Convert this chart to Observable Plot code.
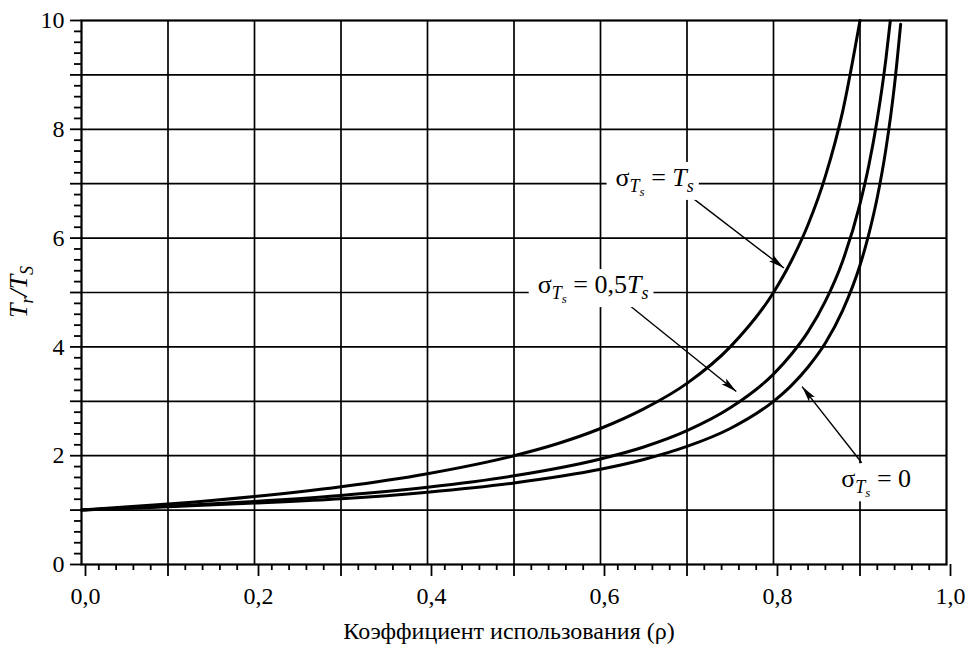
<!DOCTYPE html>
<html><head><meta charset="utf-8">
<script src="https://cdn.jsdelivr.net/npm/d3@7"></script>
<script src="https://cdn.jsdelivr.net/npm/@observablehq/plot@0.6"></script>
<style>
body{margin:0;background:#fff}
svg, svg text, svg tspan{font-family:"Liberation Serif","Times New Roman",serif !important}
</style>
</head><body><div id="chart"></div>
<script>
// ---- data ----
const rhoTs  = [0, 0.1, 0.2, 0.3, 0.4, 0.5, 0.55, 0.6, 0.65, 0.7, 0.75, 0.8, 0.82, 0.84, 0.86, 0.88, 0.9];
const valTs  = [1, 1.11, 1.25, 1.43, 1.67, 2.0, 2.22, 2.5, 2.86, 3.33, 4.0, 5.0, 5.56, 6.25, 7.14, 8.33, 10.0];
const rhoHalf = [0, 0.1, 0.2, 0.3, 0.4, 0.5, 0.6, 0.65, 0.7, 0.75, 0.8, 0.82, 0.84, 0.86, 0.88, 0.9, 0.91, 0.92, 0.93, 0.935];
const valHalf = [1, 1.07, 1.16, 1.27, 1.42, 1.63, 1.94, 2.16, 2.46, 2.88, 3.5, 3.85, 4.28, 4.84, 5.58, 6.63, 7.32, 8.19, 9.30, 9.99];
const rhoZero = [0, 0.1, 0.2, 0.3, 0.4, 0.5, 0.6, 0.65, 0.7, 0.75, 0.8, 0.82, 0.84, 0.86, 0.88, 0.9, 0.91, 0.92, 0.93, 0.94, 0.947];
const valZero = [1, 1.06, 1.13, 1.21, 1.33, 1.5, 1.75, 1.93, 2.17, 2.5, 3.0, 3.28, 3.63, 4.07, 4.67, 5.5, 6.06, 6.75, 7.64, 8.83, 9.93];

const xLabelTicks = [0, 0.2, 0.4, 0.6, 0.8, 1.0];
const xTickLabels = ["0,0", "0,2", "0,4", "0,6", "0,8", "1,0"];
const xOddTicks = [0.1, 0.3, 0.5, 0.7, 0.9];
const yLabelTicks = [0, 2, 4, 6, 8, 10];
const yTickLabels = ["0", "2", "4", "6", "8", "10"];
const yOddTicks = [1, 3, 5, 7, 9];
const gridX = [0.1, 0.2, 0.3, 0.4, 0.5, 0.6, 0.7, 0.8, 0.9];
const gridY = [1, 2, 3, 4, 5, 6, 7, 8, 9];
const xMinor = d3.range(0, 50).map(i => i * 0.02).filter((v, i) => i % 5 !== 0);
const yMinor = d3.range(0, 50).map(i => i * 0.2).filter((v, i) => i % 5 !== 0);

const xTitle = "Коэффициент использования (ρ)";

// arrows (data coordinates)
const arrowX1 = [0.707, 0.619, 0.902];
const arrowY1 = [6.73, 4.95, 1.87];
const arrowX2 = [0.812, 0.757, 0.833];
const arrowY2 = [5.45, 3.18, 3.27];

// annotation labels (data coordinates of text start / baseline)
const annX = [0.618, 0.528, 0.879];
const annY = [6.95, 4.98, 1.41];
const annTail = [[{t:" = "}, {t:"T", it:true}, {t:"s", it:true, sub:1}],
                 [{t:" = 0,5"}, {t:"T", it:true}, {t:"s", it:true, sub:1}],
                 [{t:" = 0"}]];

const rows = [
  ...rhoTs.map((r, i) => ({rho: r, t: valTs[i], s: "Ts"})),
  ...rhoHalf.map((r, i) => ({rho: r, t: valHalf[i], s: "0.5Ts"})),
  ...rhoZero.map((r, i) => ({rho: r, t: valZero[i], s: "0"}))
];
const arrows = arrowX1.map((x, i) => ({x1: x, y1: arrowY1[i], x2: arrowX2[i], y2: arrowY2[i]}));

const lookup = (ticks, labels) => d => {
  const i = ticks.findIndex(t => Math.abs(t - d) < 1e-9);
  return i >= 0 ? labels[i] : "";
};
const blank = () => "";
const SERIF = '"Liberation Serif","Times New Roman",serif';

const plot = Plot.plot({
  width: 974, height: 651,
  marginLeft: 81, marginRight: 28, marginTop: 20, marginBottom: 87,
  style: `font-family: ${SERIF}; background: white; color: black;`,
  x: {domain: [0, 1]},
  y: {domain: [0, 10]},
  marks: [
    Plot.ruleX(gridX, {stroke: "black", strokeWidth: 1.7}),
    Plot.ruleY(gridY, {stroke: "black", strokeWidth: 1.7}),
    Plot.axisX({ticks: xMinor, tickSize: 6, tickFormat: blank, strokeWidth: 1.8, label: null}),
    Plot.axisX({ticks: xOddTicks, tickSize: 12, tickFormat: blank, strokeWidth: 1.8, label: null}),
    Plot.axisX({ticks: xLabelTicks, tickSize: 12, tickPadding: 10, tickFormat: lookup(xLabelTicks, xTickLabels),
                strokeWidth: 1.8, fontSize: 24, fontFamily: SERIF, dx: 4, label: null}),
    Plot.axisY({ticks: yMinor, tickSize: 7, tickFormat: blank, strokeWidth: 1.8, label: null}),
    Plot.axisY({ticks: yOddTicks, tickSize: 11, tickFormat: blank, strokeWidth: 1.8, label: null}),
    Plot.axisY({ticks: yLabelTicks, tickSize: 11, tickPadding: 6, tickFormat: lookup(yLabelTicks, yTickLabels),
                strokeWidth: 1.8, fontSize: 24, fontFamily: SERIF, label: null}),
    Plot.frame({stroke: "black", strokeWidth: 2.2}),
    Plot.line(rows, {x: "rho", y: "t", z: "s", stroke: "black", strokeWidth: 3, curve: "monotone-x"}),
    Plot.link(arrows, {x1: "x1", y1: "y1", x2: "x2", y2: "y2", stroke: "black", strokeWidth: 1.4}),
    Plot.text([xTitle], {text: d => d, frameAnchor: "bottom", dy: 67, dx: -5, lineAnchor: "middle",
                         fontSize: 24, fontFamily: SERIF})
  ]
});

document.getElementById("chart").appendChild(plot);

// ---- post-processing: arrow heads, formula labels ----
const svg = d3.select(plot.tagName.toLowerCase() === "svg" ? plot : plot.querySelector("svg"));
const defs = svg.insert("defs", ":first-child");
defs.append("marker").attr("id", "ahead").attr("viewBox", "0 0 15 7")
  .attr("refX", 15).attr("refY", 3.5).attr("markerWidth", 16).attr("markerHeight", 7.5)
  .attr("markerUnits", "userSpaceOnUse").attr("orient", "auto")
  .append("path").attr("d", "M0,0L15,3.5L0,7L3,3.5Z").attr("fill", "black");
svg.selectAll('g[aria-label="link"] path, g[aria-label="link"] line').attr("marker-end", "url(#ahead)");

const sx = plot.scale("x"), sy = plot.scale("y");
const F = 26;
function writeParts(text, parts) {
  let level = 0;
  const shift = [0, 6, 10];
  const size = [F, 18, 13];
  parts.forEach(p => {
    const lv = p.sub || 0;
    const dy = shift[lv] - shift[level];
    text.append("tspan").attr("font-size", size[lv])
      .attr("font-style", p.it ? "italic" : "normal")
      .attr("dy", dy || null).text(p.t);
    level = lv;
  });
}
const ann = svg.append("g");
annX.forEach((ax, i) => {
  const g = ann.append("g");
  const rect = g.append("rect").attr("fill", "white");
  const t = g.append("text").attr("x", sx.apply(ax)).attr("y", sy.apply(annY[i]))
    .attr("text-anchor", "start").attr("font-size", F).attr("fill", "black");
  writeParts(t, [{t: "σ"}, {t: "T", it: true, sub: 1}, {t: "s", it: true, sub: 2}, ...annTail[i]]);
  const b = t.node().getBBox();
  rect.attr("x", b.x - 9).attr("y", b.y - 1).attr("width", b.width + 14).attr("height", b.height + 2);
});

// y axis title
const yt = svg.append("text").attr("transform", "translate(27,292) rotate(-90)")
  .attr("text-anchor", "middle").attr("font-size", F).attr("fill", "black");
yt.append("tspan").attr("font-style", "italic").text("T");
yt.append("tspan").attr("font-style", "italic").attr("font-size", 18).attr("dy", 6).text("r");
yt.append("tspan").attr("font-style", "italic").attr("dy", -6).text("/T");
yt.append("tspan").attr("font-style", "italic").attr("font-size", 18).attr("dy", 6).text("S");
</script>
</body></html>
